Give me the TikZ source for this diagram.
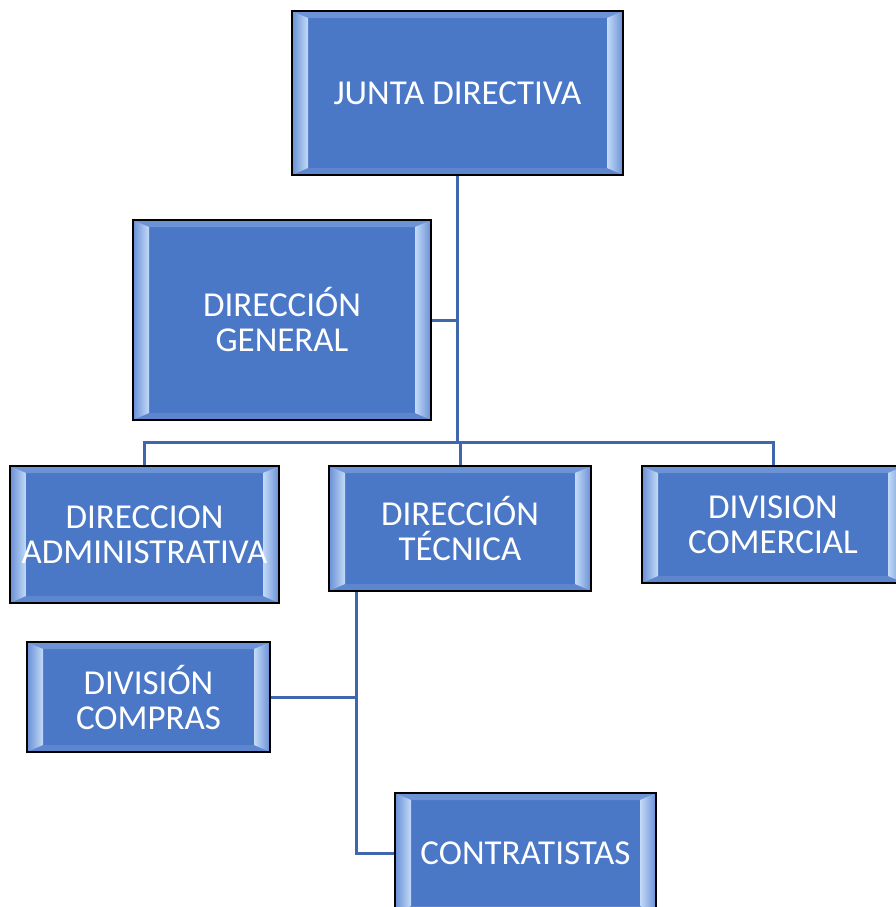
\documentclass[tikz,border=0pt]{standalone}
\usepackage{fontspec}
\setmainfont{Carlito}
\usetikzlibrary{calc}
\definecolor{boxblue}{HTML}{4A78C6}
\definecolor{bevside}{HTML}{6990D6}
\definecolor{bevtop}{HTML}{6C93D6}
\definecolor{bevbot}{HTML}{5D86CE}
\definecolor{bevhi}{HTML}{C4DBF8}
\definecolor{linkblue}{HTML}{4066AD}
\tikzset{
  orgbox/.style={draw=black, line width=1.6pt, fill=boxblue, text=white,
    font=\fontsize{35}{35}\selectfont, align=center, inner sep=0pt,
    path picture={
      \fill[bevtop] let \p1=(path picture bounding box.south west), \p2=(path picture bounding box.north east) in
        (\x1,\y2) -- (\x2,\y2) -- (\x2-16pt,\y2-7pt) -- (\x1+16pt,\y2-7pt) -- cycle;
      \fill[bevbot] let \p1=(path picture bounding box.south west), \p2=(path picture bounding box.north east) in
        (\x1,\y1) -- (\x2,\y1) -- (\x2-16pt,\y1+7pt) -- (\x1+16pt,\y1+7pt) -- cycle;
      \shade[left color=bevside, right color=bevhi] let \p1=(path picture bounding box.south west), \p2=(path picture bounding box.north east) in
        (\x1,\y1) -- (\x1,\y2) -- (\x1+16pt,\y2-7pt) -- (\x1+16pt,\y1+7pt) -- cycle;
      \shade[left color=bevhi, right color=bevside] let \p1=(path picture bounding box.south west), \p2=(path picture bounding box.north east) in
        (\x2,\y1) -- (\x2,\y2) -- (\x2-16pt,\y2-7pt) -- (\x2-16pt,\y1+7pt) -- cycle;
    }},
  link/.style={draw=linkblue, line width=3pt}
}
\begin{document}
\begin{tikzpicture}[x=1pt,y=-1pt]
\useasboundingbox (0,0) rectangle (896,907);
\node[orgbox, minimum width=331pt, minimum height=164pt] (jd) at (457.5,93) {JUNTA DIRECTIVA};
\node[orgbox, minimum width=298pt, minimum height=200pt] (dg) at (282,320) {DIRECCIÓN\\GENERAL};
\node[orgbox, minimum width=269pt, minimum height=137pt] (da) at (144.5,534.5) {DIRECCION\\ADMINISTRATIVA};
\node[orgbox, minimum width=262pt, minimum height=125pt] (dt) at (460,528.5) {DIRECCIÓN\\TÉCNICA};
\node[orgbox, minimum width=262pt, minimum height=117pt] (dc) at (773,524.5) {DIVISION\\COMERCIAL};
\node[orgbox, minimum width=243pt, minimum height=110pt] (dcomp) at (148.5,697) {DIVISIÓN\\COMPRAS};
\node[orgbox, minimum width=261pt, minimum height=120pt] (con) at (525.5,853) {CONTRATISTAS};
\coordinate (bus) at (457.5,442);
\coordinate (tb) at ([xshift=28pt]dt.south west);
\draw[link] (jd.south) -- (bus);
\draw[link] (dg.east) -- (dg.east -| jd.south);
\draw[link] (da.north) -- (da.north |- bus) -| (dc.north);
\draw[link] (dt.north) -- (dt.north |- bus);
\draw[link] (tb) |- (con.west);
\draw[link] (dcomp.east) -- (dcomp.east -| tb);
\end{tikzpicture}
\end{document}
